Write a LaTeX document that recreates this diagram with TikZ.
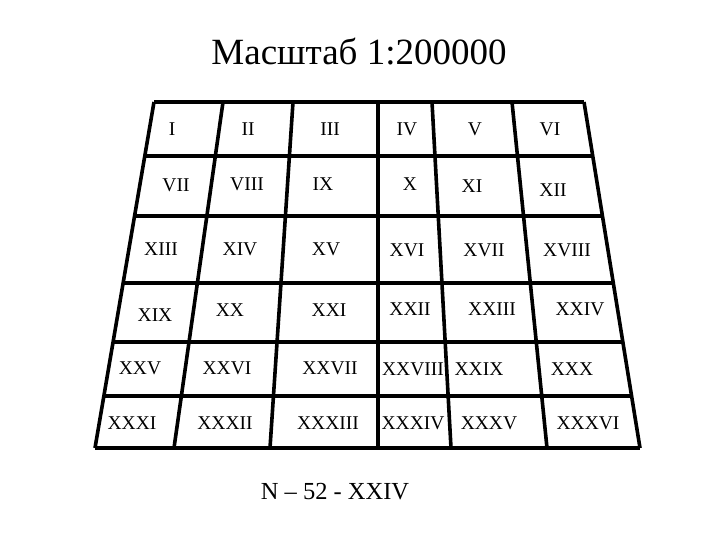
\documentclass[tikz,border=0pt]{standalone}
\usepackage{fontspec}
\setmainfont{Liberation Serif}
\usetikzlibrary{calc}
\tikzset{
  gridline/.style={line width=3.6pt, black},
  cell/.style={inner sep=0pt, font=\fontsize{19.5}{19.5}\selectfont},
  titletext/.style={inner sep=0pt, font=\fontsize{37}{37}\selectfont},
  codetext/.style={inner sep=0pt, font=\fontsize{24.5}{24.5}\selectfont}
}
\begin{document}
\begin{tikzpicture}[x=1pt,y=-1pt]
\useasboundingbox (0,0) rectangle (720,540);
% corners and column ends
\coordinate (LT) at (154,102); \coordinate (LB) at (95,448);
\coordinate (RT) at (584,102); \coordinate (RB) at (640,448);
\coordinate (T1) at (223,102); \coordinate (B1) at (174,448);
\coordinate (T2) at (293,102); \coordinate (B2) at (270,448);
\coordinate (T3) at (378,102); \coordinate (B3) at (378,448);
\coordinate (T4) at (432,102); \coordinate (B4) at (451,448);
\coordinate (T5) at (512,102); \coordinate (B5) at (547,448);
% outline
\draw[gridline] (LT) -- (RT);
\draw[gridline] (LB) -- (RB);
\draw[gridline] (LT) -- (LB);
\draw[gridline] (RT) -- (RB);
\foreach \i in {1,...,5} \draw[gridline] (T\i) -- (B\i);
\foreach \t in {0.156,0.329,0.523,0.694,0.850}
  \draw[gridline] ($(LT)!\t!(LB)$) -- ($(RT)!\t!(RB)$);
% title and code
\node[titletext] (title) at (359,52) {Масштаб 1:200000};
\node[codetext] (code) at (335,492) {N – 52 - XXIV};
% cells
\node[cell] (c1) at (172,129) {I};
\node[cell] (c2) at (248,129) {II};
\node[cell] (c3) at (330,129) {III};
\node[cell] (c4) at (407,129) {IV};
\node[cell] (c5) at (475,129) {V};
\node[cell] (c6) at (550,129) {VI};
\node[cell] (c7) at (176,185) {VII};
\node[cell] (c8) at (247,184) {VIII};
\node[cell] (c9) at (323,184) {IX};
\node[cell] (c10) at (410,184) {X};
\node[cell] (c11) at (472,186) {XI};
\node[cell] (c12) at (553,190) {XII};
\node[cell] (c13) at (161,249) {XIII};
\node[cell] (c14) at (240,249) {XIV};
\node[cell] (c15) at (326,249) {XV};
\node[cell] (c16) at (407,250) {XVI};
\node[cell] (c17) at (484,250) {XVII};
\node[cell] (c18) at (567,250) {XVIII};
\node[cell] (c19) at (155,315) {XIX};
\node[cell] (c20) at (230,310) {XX};
\node[cell] (c21) at (329,310) {XXI};
\node[cell] (c22) at (410,309) {XXII};
\node[cell] (c23) at (492,309) {XXIII};
\node[cell] (c24) at (580,309) {XXIV};
\node[cell] (c25) at (140,368) {XXV};
\node[cell] (c26) at (227,368) {XXVI};
\node[cell] (c27) at (330,368) {XXVII};
\node[cell] (c28) at (413,369) {XXVIII};
\node[cell] (c29) at (479,369) {XXIX};
\node[cell] (c30) at (572,369) {XXX};
\node[cell] (c31) at (132,423) {XXXI};
\node[cell] (c32) at (225,423) {XXXII};
\node[cell] (c33) at (328,423) {XXXIII};
\node[cell] (c34) at (413,423) {XXXIV};
\node[cell] (c35) at (489,423) {XXXV};
\node[cell] (c36) at (588,423) {XXXVI};
\end{tikzpicture}
\end{document}
